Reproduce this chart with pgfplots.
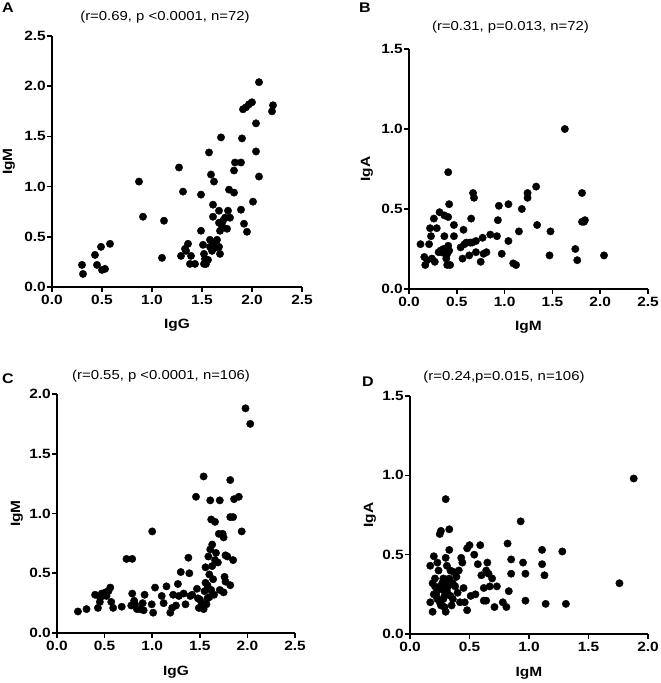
\documentclass[border=0pt]{standalone}
\usepackage{pgfplots}
\pgfplotsset{compat=1.18}
\usepackage{fontspec}
\setmainfont{Liberation Sans}[FakeStretch=1.15]
\newcommand\tl{\fontsize{13.5}{14}\selectfont\bfseries}
\pgfplotsset{
 panel/.style={
   scale only axis, axis lines*=left, clip=false,
   axis line style={line width=1.6bp, black},
   every tick/.style={line width=1.6bp, black},
   major tick length=5bp, tick align=outside,
   xmin=0, ymin=0,
   xticklabel={\tl\pgfmathprintnumber{\tick}},
   yticklabel={\tl\pgfmathprintnumber{\tick}},
   yticklabel style={inner xsep=1bp},
   xticklabel style={inner ysep=3bp},
   label style={font=\fontsize{13.5}{14}\selectfont\bfseries},
   title style={font=\fontsize{13}{14}\selectfont},
   /pgf/number format/fixed, /pgf/number format/fixed zerofill,
   /pgf/number format/precision=1, /pgf/number format/assume math mode=true,
   anchor=south west,
 },
 dots/.style={only marks, mark=*, mark size=3.7bp, black, mark options={fill=black, draw=black}},
}
\begin{document}
\begin{tikzpicture}
\useasboundingbox (0bp,0bp) rectangle (661bp,683bp);
% Panel A
\begin{axis}[panel, at={(52bp,396bp)}, width=250bp, height=251bp,
  xmax=2.5, ymax=2.5, xtick={0,0.5,1,1.5,2,2.5}, ytick={0,0.5,1,1.5,2,2.5},
  xlabel={IgG}, ylabel={IgM},
  title={(r=0.69, p <0.0001, n=72)},
  title style={at={(axis description cs:0.5,1)}, anchor=center, yshift=13bp, xshift=-12bp},
  xlabel style={at={(axis description cs:0.5,0)}, anchor=center, yshift=-38bp},
  ylabel style={at={(axis description cs:0,0.5)}, anchor=center, yshift=43bp}]
\addplot[dots] coordinates {
(0.30,0.22)(0.31,0.13)(0.43,0.32)(0.45,0.22)(0.49,0.40)(0.50,0.17)(0.53,0.18)(0.58,0.43)
(0.87,1.05)(0.91,0.70)(1.10,0.29)(1.12,0.66)(1.27,1.19)(1.31,0.95)(1.29,0.31)(1.33,0.38)
(1.36,0.43)(1.34,0.36)(1.39,0.31)(1.38,0.23)(1.43,0.23)(1.49,0.92)(1.49,0.56)(1.51,0.42)
(1.52,0.33)(1.53,0.28)(1.52,0.23)(1.54,0.23)(1.56,0.27)(1.57,1.34)(1.58,0.47)(1.58,0.40)
(1.59,1.12)(1.61,0.82)(1.61,0.70)(1.62,1.05)(1.62,0.43)(1.63,0.39)(1.65,0.47)(1.67,0.76)
(1.67,0.64)(1.67,0.40)(1.68,0.56)(1.68,0.33)(1.69,1.49)(1.70,0.61)(1.71,0.66)(1.73,0.69)
(1.75,0.58)(1.76,0.76)(1.77,0.97)(1.78,0.69)(1.82,0.94)(1.82,1.16)(1.83,1.24)(1.89,1.24)
(1.89,0.77)(1.90,1.48)(1.91,1.77)(1.92,0.63)(1.94,1.79)(1.95,0.55)(1.97,1.82)(2.00,1.84)
(2.01,0.85)(2.04,1.35)(2.04,1.63)(2.07,2.04)(2.07,1.10)(2.20,1.75)(2.21,1.81)(1.60,0.36)
};
\end{axis}
% Panel B
\begin{axis}[panel, at={(409bp,394bp)}, width=239bp, height=240bp,
  xmax=2.5, ymax=1.5, xtick={0,0.5,1,1.5,2,2.5}, ytick={0,0.5,1,1.5},
  xlabel={IgM}, ylabel={IgA},
  title={(r=0.31, p=0.013, n=72)},
  title style={at={(axis description cs:0.5,1)}, anchor=center, yshift=16bp, xshift=-18bp},
  xlabel style={at={(axis description cs:0.5,0)}, anchor=center, yshift=-38bp},
  ylabel style={at={(axis description cs:0,0.5)}, anchor=center, yshift=42bp}]
\addplot[dots] coordinates {
(0.12,0.28)(0.16,0.20)(0.17,0.15)(0.21,0.28)(0.22,0.38)(0.23,0.33)(0.24,0.19)(0.27,0.17)
(0.26,0.44)(0.29,0.38)(0.31,0.23)(0.32,0.48)(0.34,0.23)(0.36,0.25)(0.37,0.46)(0.37,0.33)
(0.38,0.22)(0.39,0.19)(0.40,0.15)(0.41,0.73)(0.41,0.27)(0.41,0.45)(0.42,0.53)(0.42,0.24)
(0.43,0.15)(0.47,0.40)(0.47,0.33)(0.54,0.26)(0.56,0.19)(0.57,0.37)(0.60,0.29)(0.63,0.21)
(0.64,0.29)(0.65,0.44)(0.67,0.60)(0.68,0.57)(0.70,0.30)(0.70,0.23)(0.75,0.17)(0.77,0.32)
(0.78,0.22)(0.81,0.23)(0.85,0.34)(0.92,0.33)(0.93,0.43)(0.94,0.52)(0.97,0.22)(1.04,0.53)
(1.04,0.30)(1.09,0.16)(1.12,0.15)(1.15,0.36)(1.18,0.50)(1.24,0.60)(1.24,0.57)(1.33,0.64)
(1.34,0.40)(1.47,0.21)(1.48,0.36)(1.63,1.00)(1.74,0.25)(1.76,0.18)(1.81,0.60)(1.81,0.42)
(1.83,0.42)(1.84,0.43)(2.04,0.21)(0.19,0.18)(0.33,0.24)(0.40,0.22)(0.58,0.28)(0.66,0.29)
};
\end{axis}
% Panel C
\begin{axis}[panel, at={(57bp,50bp)}, width=238bp, height=239bp,
  xmax=2.5, ymax=2.0, xtick={0,0.5,1,1.5,2,2.5}, ytick={0,0.5,1,1.5,2},
  xlabel={IgG}, ylabel={IgM},
  title={(r=0.55, p <0.0001, n=106)},
  title style={at={(axis description cs:0.5,1)}, anchor=center, yshift=12bp, xshift=-15bp},
  xlabel style={at={(axis description cs:0.5,0)}, anchor=center, yshift=-39bp},
  ylabel style={at={(axis description cs:0,0.5)}, anchor=center, yshift=40bp}]
\addplot[dots] coordinates {
(0.22,0.18)(0.31,0.20)(0.40,0.32)(0.43,0.21)(0.45,0.30)(0.45,0.26)(0.47,0.33)(0.51,0.34)
(0.52,0.31)(0.54,0.35)(0.56,0.38)(0.57,0.26)(0.59,0.21)(0.68,0.22)(0.73,0.62)(0.79,0.62)
(0.78,0.23)(0.79,0.33)(0.81,0.27)(0.82,0.24)(0.84,0.20)(0.87,0.20)(0.90,0.25)(0.91,0.19)
(0.92,0.32)(0.995,0.24)(1.00,0.85)(1.01,0.17)(1.03,0.38)(1.10,0.31)(1.12,0.25)(1.15,0.39)
(1.19,0.17)(1.21,0.21)(1.22,0.32)(1.25,0.23)(1.27,0.41)(1.28,0.31)(1.30,0.51)(1.33,0.33)
(1.35,0.24)(1.38,0.63)(1.39,0.50)(1.40,0.31)(1.42,0.32)(1.46,1.14)(1.47,0.37)(1.48,0.29)
(1.49,0.21)(1.52,0.25)(1.54,1.31)(1.54,0.20)(1.55,0.35)(1.56,0.55)(1.56,0.42)(1.57,0.24)
(1.58,0.29)(1.59,0.64)(1.60,0.49)(1.61,0.70)(1.61,1.11)(1.62,0.36)(1.62,0.95)(1.63,0.56)
(1.63,0.74)(1.64,0.45)(1.65,0.32)(1.66,0.93)(1.66,0.61)(1.67,0.67)(1.69,0.59)(1.70,0.83)
(1.71,1.11)(1.71,0.36)(1.74,0.83)(1.75,0.80)(1.75,0.34)(1.76,0.47)(1.77,0.65)(1.77,0.43)
(1.79,0.64)(1.82,1.28)(1.82,0.40)(1.82,0.97)(1.85,0.97)(1.85,0.61)(1.86,1.12)(1.91,1.14)
(1.94,0.85)(1.98,1.88)(2.03,1.75)(1.60,0.30)(1.58,0.40)(1.53,0.22)(1.50,0.28)(0.48,0.31)
};
\end{axis}
% Panel D
\begin{axis}[panel, at={(410bp,49bp)}, width=238bp, height=238bp,
  xmax=2.0, ymax=1.5, xtick={0,0.5,1,1.5,2}, ytick={0,0.5,1,1.5},
  xlabel={IgM}, ylabel={IgA},
  title={(r=0.24,p=0.015, n=106)},
  title style={at={(axis description cs:0.5,1)}, anchor=center, yshift=13bp, xshift=-25bp},
  xlabel style={at={(axis description cs:0.5,0)}, anchor=center, yshift=-39bp},
  ylabel style={at={(axis description cs:0,0.5)}, anchor=center, yshift=40bp}]
\addplot[dots] coordinates {
(0.17,0.43)(0.17,0.20)(0.19,0.14)(0.20,0.49)(0.19,0.32)(0.21,0.35)(0.22,0.26)(0.22,0.24)
(0.23,0.45)(0.24,0.40)(0.24,0.29)(0.25,0.20)(0.25,0.63)(0.26,0.65)(0.27,0.32)(0.27,0.28)
(0.28,0.35)(0.29,0.24)(0.29,0.17)(0.30,0.14)(0.30,0.85)(0.30,0.48)(0.31,0.43)(0.32,0.30)
(0.33,0.66)(0.33,0.53)(0.34,0.40)(0.34,0.24)(0.35,0.18)(0.36,0.32)(0.37,0.39)(0.39,0.36)
(0.41,0.40)(0.42,0.20)(0.43,0.48)(0.44,0.45)(0.45,0.29)(0.46,0.20)(0.48,0.15)(0.48,0.54)
(0.50,0.56)(0.51,0.24)(0.54,0.50)(0.55,0.25)(0.57,0.44)(0.59,0.56)(0.60,0.37)(0.62,0.29)
(0.64,0.21)(0.64,0.40)(0.65,0.45)(0.67,0.30)(0.69,0.35)(0.71,0.17)(0.73,0.30)(0.78,0.20)
(0.81,0.17)(0.82,0.57)(0.83,0.27)(0.85,0.47)(0.85,0.38)(0.93,0.71)(0.95,0.45)(0.97,0.38)
(0.97,0.21)(1.11,0.53)(1.11,0.44)(1.13,0.37)(1.14,0.19)(1.28,0.52)(1.31,0.19)(1.76,0.32)
(1.88,0.98)(0.21,0.30)(0.23,0.22)(0.26,0.18)(0.28,0.22)(0.31,0.27)(0.33,0.35)(0.36,0.22)
(0.38,0.30)(0.40,0.26)(0.62,0.21)(0.66,0.38)(0.20,0.25)(0.30,0.33)
};
\end{axis}
\node[font=\fontsize{14}{15}\selectfont\bfseries] at (8bp,675bp) {A};
\node[font=\fontsize{14}{15}\selectfont\bfseries] at (365bp,675bp) {B};
\node[font=\fontsize{14}{15}\selectfont\bfseries] at (8bp,304bp) {C};
\node[font=\fontsize{14}{15}\selectfont\bfseries] at (368bp,301bp) {D};
\end{tikzpicture}
\end{document}
